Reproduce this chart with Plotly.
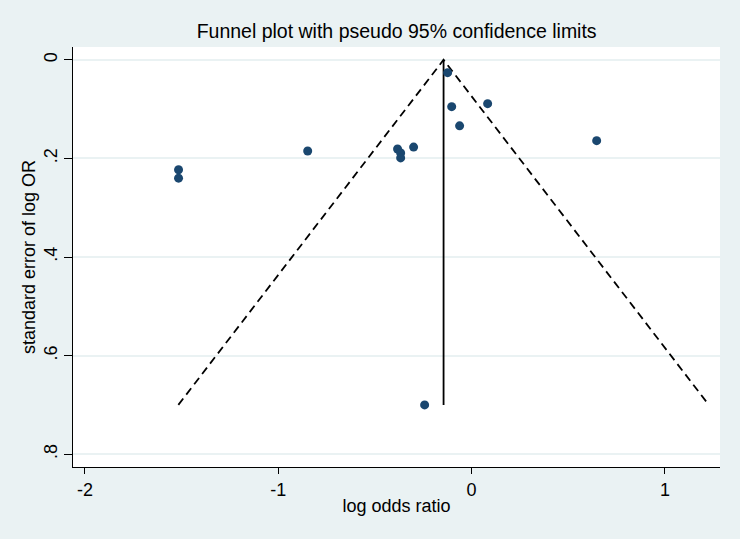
import plotly.graph_objects as go

# Study estimates
log_or = [-0.124, -0.103, 0.083, -0.062, 0.647, -0.848, -0.300, -0.383, -0.367, -0.367, -1.516, -1.516, -0.243]
se_log_or = [0.026, 0.095, 0.089, 0.134, 0.164, 0.185, 0.177, 0.181, 0.189, 0.199, 0.223, 0.240, 0.700]

pooled = -0.145
se_max = 0.700
z = 1.96

x_ticks = [-2, -1, 0, 1]
x_tick_labels = ["-2", "-1", "0", "1"]
y_ticks = [0, 0.2, 0.4, 0.6, 0.8]
y_tick_labels = ["0", ".2", ".4", ".6", ".8"]

bg = "#EAF2F3"
navy = "#1A476F"
font = "Liberation Sans, Arial, sans-serif"

fig = go.Figure()

# pseudo 95% CI limits
fig.add_trace(go.Scatter(
    x=[pooled - z * se_max, pooled, pooled + z * se_max],
    y=[se_max, 0, se_max],
    mode="lines", line=dict(color="black", width=1.8, dash="8px,5px"),
    hoverinfo="skip", showlegend=False))

# pooled estimate line
fig.add_trace(go.Scatter(
    x=[pooled, pooled], y=[0, se_max],
    mode="lines", line=dict(color="black", width=1.8),
    hoverinfo="skip", showlegend=False))

fig.add_trace(go.Scatter(
    x=log_or, y=se_log_or, mode="markers",
    marker=dict(color=navy, size=9, symbol="circle"),
    showlegend=False))

fig.update_layout(
    width=740, height=539,
    paper_bgcolor=bg, plot_bgcolor="white",
    margin=dict(l=73, r=20, t=47, b=72),
    font=dict(family=font, size=18, color="black"),
    title=dict(text="Funnel plot with pseudo 95% confidence limits",
               x=0.536, xanchor="center", y=1 - 31 / 539, yanchor="middle",
               font=dict(size=19.5, family=font, color="black")),
    xaxis=dict(range=[-2.062, 1.285], tickmode="array", tickvals=x_ticks, ticktext=x_tick_labels,
               showgrid=False, zeroline=False, showline=True, linecolor="black", linewidth=1,
               ticks="outside", ticklen=6, tickcolor="black",
               title=dict(text="log odds ratio", font=dict(size=18), standoff=0)),
    yaxis=dict(range=[0.826, -0.026], tickmode="array", tickvals=y_ticks, ticktext=y_tick_labels,
               showgrid=True, gridcolor=bg, gridwidth=1.5, zeroline=False,
               showline=True, linecolor="black", linewidth=1,
               ticks="outside", ticklen=8, tickcolor="black", tickangle=-90,
               title=dict(text="standard error of log OR", font=dict(size=18), standoff=0)),
)

fig.write_html("out.html", config={"displayModeBar": False},
               post_script="document.body.style.margin='0';document.body.style.background='#EAF2F3';")
